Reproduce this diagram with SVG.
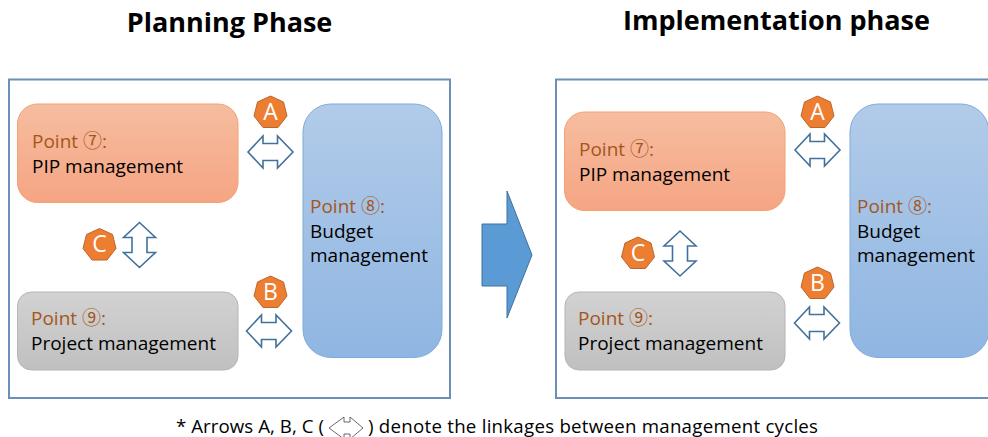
<svg xmlns="http://www.w3.org/2000/svg" width="988" height="437" viewBox="0 0 988 437">
<style>
text{font-family:"Open Sans","Noto Sans","Noto Sans CJK JP",sans-serif}
.title{font-size:27px;font-weight:700;fill:#000;text-anchor:middle}
.frame{fill:#fff;stroke:#6b8fb5;stroke-width:2}
.pip{fill:url(#gOrange);stroke:#f4a26d;stroke-width:1}
.bud{fill:url(#gBlue);stroke:#7fabdc;stroke-width:1}
.prj{fill:url(#gGrey);stroke:#b5b5b5;stroke-width:1}
.pt{font-size:19px;fill:#a5561c}
.lb{font-size:19px;fill:#000}
.hep{fill:#ed7d31;stroke:#b8672e;stroke-width:1}
.ltr{font-size:23px;fill:#fff;text-anchor:middle}
.arr{fill:#fff;stroke:#41719c;stroke-width:1.6}
.big{fill:#5b9bd5;stroke:#41719c;stroke-width:1}
.note{font-size:18.700px;fill:#000}
</style>
<defs>
<linearGradient id="gOrange" x1="0" y1="0" x2="0" y2="1"><stop offset="0" stop-color="#f6bda0"/><stop offset="1" stop-color="#f5a583"/></linearGradient>
<linearGradient id="gBlue" x1="0" y1="0" x2="0" y2="1"><stop offset="0" stop-color="#b2cbe9"/><stop offset="1" stop-color="#8fb6e2"/></linearGradient>
<linearGradient id="gGrey" x1="0" y1="0" x2="0" y2="1"><stop offset="0" stop-color="#d2d2d2"/><stop offset="1" stop-color="#c0c0c0"/></linearGradient>
<path id="h7" class="hep" d="M0 -16 L13 -10 L16.500 4 L7.500 15.500 L-7.500 15.500 L-16.500 4 L-13 -10Z"/>
<path id="ah" class="arr" d="M-22.500 0 L-7.500 -16 V-8.500 H7 V-16 L22.500 0 L7 16 V8.500 H-7.500 V16Z"/>
<path id="av" class="arr" d="M0 -22.500 L16 -7.500 H7.500 V7.500 H16 L0 22.500 L-16 7.500 H-7.500 V-7.500 H-16Z"/>
</defs>
<rect width="988" height="437" fill="#fff"/>
<text class="title" x="229.500" y="32">Planning Phase</text>
<text class="title" x="776.500" y="30">Implementation phase</text>
<g id="frame-planning"><rect class="frame" x="9" y="79.500" width="441" height="318.500"/></g>
<g id="frame-implementation"><path class="frame" d="M995 79.500 H556 V398 H995"/></g>

<g id="connectors">
<use href="#ah" x="270.500" y="152"/>
<use href="#ah" x="269" y="331"/>
<use href="#av" x="139.500" y="245"/>
<use href="#ah" x="817.500" y="150"/>
<use href="#ah" x="817" y="323"/>
<use href="#av" x="680" y="253.500"/>
<path id="phase-arrow" class="big" d="M482 224 H507 V191 L532 255 L507 318 V286 H482Z"/>
</g>

<g id="p-pip"><rect class="pip" x="17.500" y="104" width="220.500" height="98.500" rx="20"/><text class="pt" x="32" y="148">Point ⑦:</text><text class="lb" x="32" y="173">PIP management</text></g>
<g id="p-budget"><rect class="bud" x="303" y="104" width="139" height="253.500" rx="28"/><text class="pt" x="310" y="213">Point ⑧:</text><text class="lb" x="310" y="238">Budget</text><text class="lb" x="310" y="262">management</text></g>
<g id="p-project"><rect class="prj" x="17.500" y="292" width="220.500" height="78" rx="14"/><text class="pt" x="31" y="325">Point ⑨:</text><text class="lb" x="31" y="350">Project management</text></g>
<g id="p-a"><use href="#h7" x="270.500" y="112"/><text class="ltr" x="270.500" y="119.500">A</text></g>
<g id="p-b"><use href="#h7" x="270.500" y="292"/><text class="ltr" x="270.500" y="299.500">B</text></g>
<g id="p-c"><use href="#h7" x="99.500" y="244.500"/><text class="ltr" x="99.500" y="252">C</text></g>

<g id="i-pip"><rect class="pip" x="564.500" y="112" width="220.500" height="98.500" rx="20"/><text class="pt" x="579" y="156">Point ⑦:</text><text class="lb" x="579" y="181">PIP management</text></g>
<g id="i-budget"><rect class="bud" x="850" y="104" width="139" height="253.500" rx="28"/><text class="pt" x="857" y="213">Point ⑧:</text><text class="lb" x="857" y="238">Budget</text><text class="lb" x="857" y="262">management</text></g>
<g id="i-project"><rect class="prj" x="565" y="292" width="220" height="78" rx="14"/><text class="pt" x="578" y="325">Point ⑨:</text><text class="lb" x="578" y="350">Project management</text></g>
<g id="i-a"><use href="#h7" x="817.500" y="112"/><text class="ltr" x="817.500" y="119.500">A</text></g>
<g id="i-b"><use href="#h7" x="817.500" y="283"/><text class="ltr" x="817.500" y="290.500">B</text></g>
<g id="i-c"><use href="#h7" x="638" y="253"/><text class="ltr" x="638" y="260.500">C</text></g>

<g id="footnote">
<text class="note" x="176" y="433" textLength="148">* Arrows A, B, C (</text>
<path d="M329 428 L344 417 V422 H350 V417 L363 428 L350 439 V434 H344 V439Z" fill="#fff" stroke="#444" stroke-width="0.800"/>
<text class="note" x="368" y="433" textLength="450">) denote the linkages between management cycles</text>
</g>
</svg>
